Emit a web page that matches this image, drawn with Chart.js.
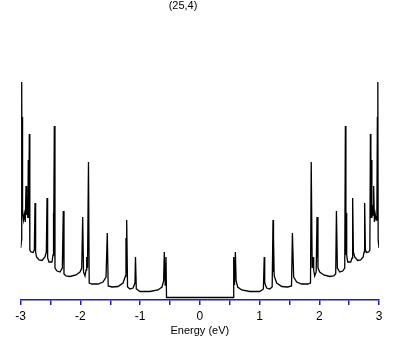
<!DOCTYPE html>
<html>
<head>
<meta charset="utf-8">
<script src="https://cdn.jsdelivr.net/npm/chart.js@4/dist/chart.umd.min.js"></script>
<style>
  html, body { margin: 0; padding: 0; background: #fff; }
  #wrap { width: 409px; height: 345px; }
</style>
</head>
<body>
<div id="wrap"><canvas id="dos"></canvas></div>
<script>
// density of states for the (25,4) tube
const chartTitle = "(25,4)";
const axisTitle = "Energy (eV)";

// energy (eV), left half, then the gap, then right half
const energyNeg = [-3.000, -2.986, -2.983, -2.978, -2.973, -2.965, -2.953, -2.936, -2.923, -2.911,
  -2.901, -2.889, -2.881, -2.873, -2.864, -2.856, -2.847, -2.827, -2.794, -2.772,
  -2.760, -2.750, -2.735, -2.693, -2.643, -2.593, -2.571, -2.559, -2.549, -2.526,
  -2.476, -2.459, -2.454, -2.446, -2.437, -2.426, -2.392, -2.342, -2.303, -2.287,
  -2.275, -2.241, -2.174, -2.074, -2.007, -1.978, -1.962, -1.948, -1.923, -1.906,
  -1.895, -1.881, -1.865, -1.853, -1.806, -1.705, -1.622, -1.571, -1.550, -1.535,
  -1.471, -1.371, -1.287, -1.245, -1.237, -1.230, -1.225, -1.211, -1.170, -1.119,
  -1.086, -1.078, -1.064, -1.002, -0.835, -0.701, -0.634, -0.607, -0.595, -0.580,
  -0.567, -0.558];
const dosNeg = [0.52, 0.60, 2.18, 1.00, 1.83, 0.90, 0.80, 0.86, 0.78, 1.14,
  0.85, 0.95, 0.82, 1.40, 0.82, 1.66, 0.50, 0.48, 0.475, 0.50,
  0.97, 0.48, 0.43, 0.40, 0.395, 0.43, 0.48, 1.02, 0.42, 0.38,
  0.38, 0.45, 0.87, 0.45, 1.74, 0.32, 0.29, 0.28, 0.32, 0.89,
  0.26, 0.24, 0.235, 0.25, 0.28, 0.32, 0.83, 0.28, 0.24, 0.30,
  0.43, 0.32, 1.38, 0.17, 0.16, 0.16, 0.18, 0.23, 0.67, 0.14,
  0.13, 0.135, 0.17, 0.24, 0.62, 0.28, 0.80, 0.13, 0.11, 0.12,
  0.17, 0.43, 0.11, 0.085, 0.085, 0.10, 0.13, 0.19, 0.48, 0.15,
  0.43, 0.025];

const energyPos = [0.558, 0.567, 0.580, 0.595, 0.607, 0.634, 0.701, 0.835, 1.002, 1.064,
  1.078, 1.086, 1.119, 1.170, 1.211, 1.225, 1.230, 1.237, 1.245, 1.287,
  1.371, 1.471, 1.535, 1.550, 1.571, 1.622, 1.705, 1.806, 1.853, 1.865,
  1.881, 1.895, 1.906, 1.923, 1.948, 1.962, 1.978, 2.007, 2.074, 2.174,
  2.241, 2.275, 2.287, 2.303, 2.342, 2.392, 2.426, 2.437, 2.446, 2.454,
  2.459, 2.476, 2.526, 2.549, 2.559, 2.571, 2.593, 2.643, 2.693, 2.735,
  2.750, 2.760, 2.772, 2.794, 2.827, 2.847, 2.856, 2.864, 2.873, 2.881,
  2.889, 2.901, 2.911, 2.923, 2.936, 2.953, 2.965, 2.973, 2.978, 2.983,
  2.986, 3.000];
const dosPos = [0.025, 0.43, 0.15, 0.48, 0.19, 0.13, 0.10, 0.085, 0.085, 0.11,
  0.43, 0.17, 0.12, 0.11, 0.13, 0.80, 0.28, 0.62, 0.24, 0.17,
  0.135, 0.13, 0.14, 0.67, 0.23, 0.18, 0.16, 0.16, 0.17, 1.38,
  0.32, 0.43, 0.30, 0.24, 0.28, 0.83, 0.32, 0.28, 0.25, 0.235,
  0.24, 0.26, 0.89, 0.32, 0.28, 0.29, 0.32, 1.74, 0.45, 0.87,
  0.45, 0.38, 0.38, 0.42, 1.02, 0.48, 0.43, 0.395, 0.40, 0.43,
  0.48, 0.97, 0.50, 0.475, 0.48, 0.50, 1.66, 0.82, 1.40, 0.82,
  0.95, 0.85, 1.14, 0.78, 0.86, 0.80, 0.90, 1.83, 1.00, 2.18,
  0.60, 0.52];

const energy = energyNeg.concat(energyPos);
const dos = dosNeg.concat(dosPos);
const points = energy.map((e, i) => ({x: e, y: dos[i]}));

const axisBlue = '#1c1cc4';
const fontFam = '"Liberation Sans", Arial, sans-serif';

// title sits a little left of centre in the original
const titlePlugin = {
  id: 'topTitle',
  afterDraw(chart) {
    const c = chart.ctx;
    c.save();
    c.font = '11px ' + fontFam;
    c.fillStyle = '#000';
    c.textAlign = 'center';
    c.textBaseline = 'middle';
    c.fillText(chartTitle, 183, 6);
    c.restore();
  }
};

new Chart(document.getElementById('dos'), {
  type: 'line',
  data: {
    datasets: [{
      data: points,
      borderColor: '#000',
      borderWidth: 1.3,
      pointRadius: 0,
      tension: 0,
      fill: false
    }]
  },
  options: {
    responsive: true,
    maintainAspectRatio: false,
    animation: false,
    layout: { padding: { left: 20.7, right: 30, top: 20, bottom: 0 } },
    plugins: { legend: { display: false }, tooltip: { enabled: false } },
    scales: {
      x: {
        type: 'linear',
        min: -3,
        max: 3,
        afterFit: s => { s.height = 45; },
        border: { color: axisBlue, width: 1.5 },
        grid: { drawOnChartArea: false, drawTicks: true, tickLength: 5, color: axisBlue, lineWidth: 1.5 },
        ticks: {
          stepSize: 0.5,
          autoSkip: false,
          maxRotation: 0,
          padding: 4,
          color: '#000',
          font: { family: fontFam, size: 12 },
          callback: v => Number.isInteger(v) ? String(v) : ''
        },
        title: {
          display: true,
          text: axisTitle,
          color: '#000',
          font: { family: fontFam, size: 11 },
          padding: { top: 1, bottom: 7.5 }
        }
      },
      y: {
        display: false,
        min: 0,
        max: 2.8
      }
    }
  },
  plugins: [titlePlugin]
});
</script>
</body>
</html>
